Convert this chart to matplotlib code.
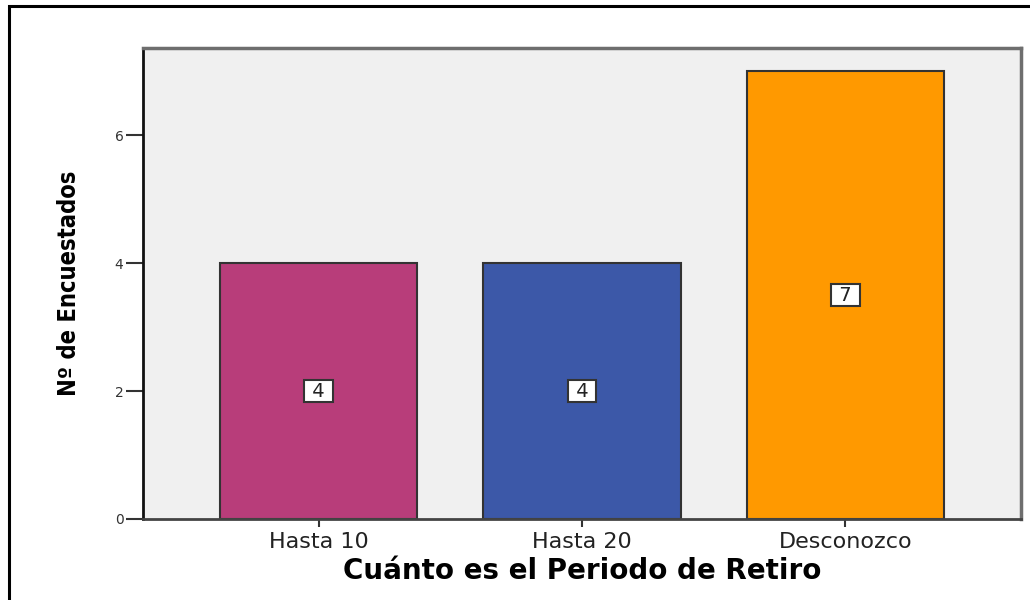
import matplotlib
matplotlib.use('Agg')
import matplotlib.pyplot as plt
from matplotlib.patches import Rectangle

# datos
categorias = ['Hasta 10', 'Hasta 20', 'Desconozco']
encuestados = [4, 4, 7]
colores = ['#B83D7A', '#3C58A8', '#FF9900']
y_ticks = [0, 2, 4, 6]

plt.rcParams['font.family'] = ['DejaVu Sans']

fig = plt.figure(figsize=(10.3, 6), dpi=100)
ax = fig.add_axes([143 / 1030, 1 - 519 / 600, (1021 - 143) / 1030, (519 - 48) / 600])
ax.set_facecolor('#F0F0F0')

x = range(len(categorias))
bars = ax.bar(x, encuestados, width=0.75, color=colores, edgecolor='#333333', linewidth=1.5, zorder=2)

# etiquetas dentro de las barras
for xi, v in zip(x, encuestados):
    ax.text(xi, v / 2, f' {v} ', ha='center', va='center', fontsize=14, color='#222222',
            bbox=dict(boxstyle='square,pad=0.1', fc='white', ec='#333333', lw=1.5), zorder=3)

ax.set_xlim(-0.667, 2.667)
ax.set_ylim(0, 7.36)
ax.set_yticks(y_ticks)
ax.set_xticks(list(x))
ax.set_xticklabels(categorias, fontsize=16, color='#222222')
ax.tick_params(axis='y', length=12, width=1.5, color='#333333', pad=2, labelsize=10, labelcolor='#333333')
ax.tick_params(axis='x', length=6, width=1.5, color='#333333', pad=3)

ax.spines['left'].set_color('#111111')
ax.spines['left'].set_linewidth(2)
ax.spines['bottom'].set_color('#444444')
ax.spines['bottom'].set_linewidth(2)
for s in ['top', 'right']:
    ax.spines[s].set_color('#6E6E6E')
    ax.spines[s].set_linewidth(2.5)

ax.set_xlabel('Cuánto es el Periodo de Retiro', fontsize=20, fontweight='bold', labelpad=4)
ax.set_ylabel('Nº de Encuestados', fontsize=17, fontstretch='condensed', fontweight='bold', labelpad=24)

# marco exterior
fig.patches.append(Rectangle((9 / 1030, -0.02), 1.05, 1 - 6 / 600 + 0.02, transform=fig.transFigure,
                             fill=False, ec='black', lw=2.2, zorder=10))

fig.savefig('out.png', dpi=100)
